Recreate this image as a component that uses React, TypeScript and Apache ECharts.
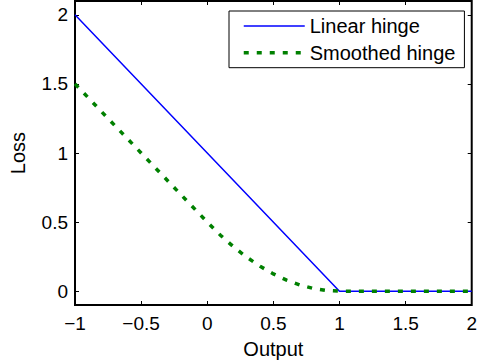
import React, { useEffect, useRef } from "react";
import * as echarts from "echarts";

const linearX = [-1, 1, 2];
const linearY = [2, 0, 0];
const smoothX = [-1, -0.5, 0, 0.1, 0.2, 0.3, 0.4, 0.5, 0.6, 0.7, 0.8, 0.9, 1, 2];
const smoothY = [1.5, 1.0, 0.5, 0.405, 0.32, 0.245, 0.18, 0.125, 0.08, 0.045, 0.02, 0.005, 0, 0];
const xTicks = [-1, -0.5, 0, 0.5, 1, 1.5, 2];
const yTicks = [0, 0.5, 1, 1.5, 2];
const seriesNames = ["Linear hinge", "Smoothed hinge"];

const FONT = "'Liberation Sans', Arial, Helvetica, sans-serif";

export default function App() {
  const ref = useRef<HTMLDivElement>(null);
  useEffect(() => {
    document.body.style.margin = "0";
    const chart = echarts.init(ref.current!, null, { renderer: "svg" });
    const fmt = (v: number) => String(v).replace("-", "\u2212");
    const tickStyle = { show: true, inside: true, length: 4, lineStyle: { color: "#000", width: 1 } };
    const blueLine = { color: "#0000ff", width: 1.5 };
    const greenLine = { color: "#008000", width: 3.5, type: [5, 8] };
    chart.setOption({
      animation: false,
      backgroundColor: "#fff",
      textStyle: { fontFamily: FONT, color: "#000" },
      grid: {
        left: 75,
        right: 4,
        top: 1,
        bottom: 58,
        show: true,
        borderColor: "#000",
        borderWidth: 2,
        backgroundColor: "transparent",
      },
      legend: {
        orient: "vertical",
        left: 229,
        top: 11,
        backgroundColor: "#fff",
        borderColor: "#000",
        borderWidth: 1,
        borderRadius: 0,
        padding: [5, 9, 5, 13],
        itemWidth: 61,
        itemHeight: 20,
        itemGap: 6.7,
        itemStyle: { opacity: 0 },
        textStyle: { fontFamily: FONT, fontSize: 20, color: "#000", lineHeight: 20 },
        data: [
          { name: seriesNames[0], lineStyle: { ...blueLine } },
          { name: seriesNames[1], lineStyle: { ...greenLine } },
        ],
      },
      xAxis: [
        {
          type: "value",
          min: -1,
          max: 2,
          position: "bottom",
          name: "Output",
          nameLocation: "middle",
          nameGap: 34,
          nameTextStyle: { fontFamily: FONT, fontSize: 20, color: "#000" },
          axisLine: { show: false, onZero: false },
          axisTick: { ...tickStyle, customValues: xTicks },
          axisLabel: {
            customValues: xTicks,
            formatter: fmt,
            fontFamily: FONT,
            fontSize: 19,
            color: "#000",
            margin: 9,
          },
          splitLine: { show: false },
        },
        {
          type: "value",
          min: -1,
          max: 2,
          position: "top",
          axisLine: { show: false, onZero: false },
          axisTick: { ...tickStyle, customValues: xTicks },
          axisLabel: { show: false },
          splitLine: { show: false },
        },
      ],
      yAxis: [
        {
          type: "value",
          min: -0.1,
          max: 2.1,
          position: "left",
          name: "Loss",
          nameLocation: "middle",
          nameGap: 47,
          nameRotate: 90,
          nameTextStyle: { fontFamily: FONT, fontSize: 20, color: "#000" },
          axisLine: { show: false, onZero: false },
          axisTick: { ...tickStyle, customValues: yTicks },
          axisLabel: {
            customValues: yTicks,
            formatter: fmt,
            fontFamily: FONT,
            fontSize: 19,
            color: "#000",
            margin: 7,
          },
          splitLine: { show: false },
        },
        {
          type: "value",
          min: -0.1,
          max: 2.1,
          position: "right",
          axisLine: { show: false, onZero: false },
          axisTick: { ...tickStyle, customValues: yTicks },
          axisLabel: { show: false },
          splitLine: { show: false },
        },
      ],
      series: [
        {
          name: seriesNames[0],
          type: "line",
          symbol: "none",
          data: linearX.map((x, i) => [x, linearY[i]]),
          lineStyle: blueLine,
          itemStyle: { color: "#0000ff" },
          z: 2,
        },
        {
          name: seriesNames[1],
          type: "line",
          symbol: "none",
          data: smoothX.map((x, i) => [x, smoothY[i]]),
          lineStyle: greenLine,
          itemStyle: { color: "#008000" },
          z: 3,
        },
      ],
    });
    return () => chart.dispose();
  }, []);
  return <div ref={ref} style={{ width: 480, height: 364 }} />;
}
